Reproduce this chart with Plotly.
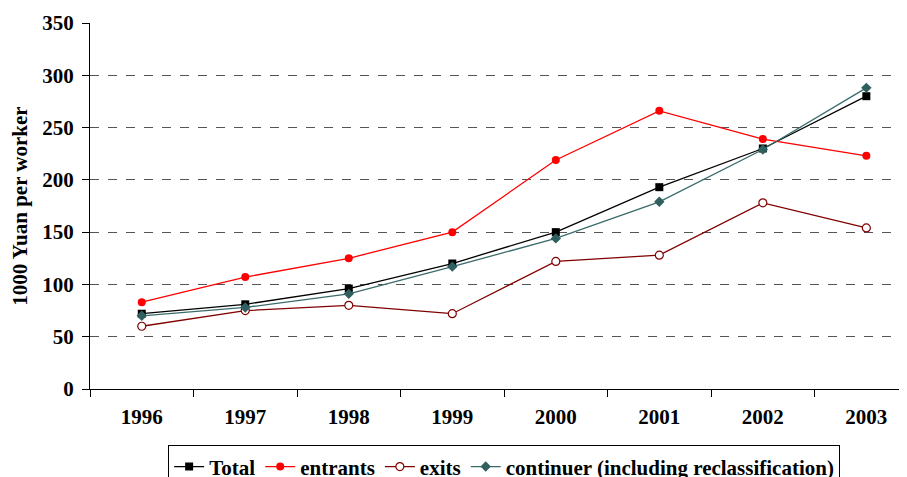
import plotly.graph_objects as go

years = ["1996", "1997", "1998", "1999", "2000", "2001", "2002", "2003"]
total = [72, 81, 96, 120, 150, 193, 230, 280]
entrants = [83, 107, 125, 150, 219, 266, 239, 223]
exits = [60, 75, 80, 72, 122, 128, 178, 154]
continuer = [70, 78, 91, 117, 144, 179, 229, 288]

FONT = "Liberation Serif"

fig = go.Figure()
fig.add_trace(go.Scatter(x=years, y=total, name="Total", mode="lines+markers",
                         line=dict(color="black", width=1.3),
                         marker=dict(symbol="square", size=8, color="black")))
fig.add_trace(go.Scatter(x=years, y=entrants, name="entrants", mode="lines+markers",
                         line=dict(color="#FF0000", width=1.3),
                         marker=dict(symbol="circle", size=8, color="#FF0000")))
fig.add_trace(go.Scatter(x=years, y=exits, name="exits", mode="lines+markers",
                         line=dict(color="#800000", width=1.3),
                         marker=dict(symbol="circle", size=8, color="white",
                                     line=dict(color="#800000", width=1.2))))
fig.add_trace(go.Scatter(x=years, y=continuer, name="continuer (including reclassification)",
                         mode="lines+markers",
                         line=dict(color="#3A6B6B", width=1.3),
                         marker=dict(symbol="diamond", size=8, color="#2F5F5F")))

fig.update_layout(
    width=907, height=477,
    margin=dict(l=82, r=0, t=15, b=96, autoexpand=False),
    paper_bgcolor="white", plot_bgcolor="white",
    font=dict(family=FONT, size=21, color="black"),
    showlegend=True,
    legend=dict(orientation="h", xref="container", yref="container",
                x=0.547, xanchor="center", y=0.083, yanchor="top",
                bordercolor="black", borderwidth=1,
                font=dict(family=FONT, size=21, color="black", weight="bold"),
                itemwidth=30, tracegroupgap=0),
)
fig.update_xaxes(type="category", range=[-0.5, 7.47], tickson="boundaries",
                 ticks="outside", ticklen=7, tickcolor="black", automargin=False,
                 showline=True, linecolor="black", linewidth=1.2,
                 showgrid=False, zeroline=False, ticklabelstandoff=9,
                 tickfont=dict(family=FONT, size=21, color="black", weight="bold"))
fig.update_yaxes(range=[0, 350], dtick=50, ticks="outside", ticklen=7, tickcolor="black",
                 showline=True, linecolor="black", linewidth=1.2, automargin=False,
                 showgrid=True, gridcolor="#555555", griddash="dash", gridwidth=1,
                 zeroline=False, ticklabelstandoff=4,
                 tickfont=dict(family=FONT, size=21, color="black", weight="bold"),
                 title=dict(text="1000 Yuan per worker", standoff=10,
                            font=dict(family=FONT, size=21, color="black", weight="bold")))

fig.write_html("out.html")
